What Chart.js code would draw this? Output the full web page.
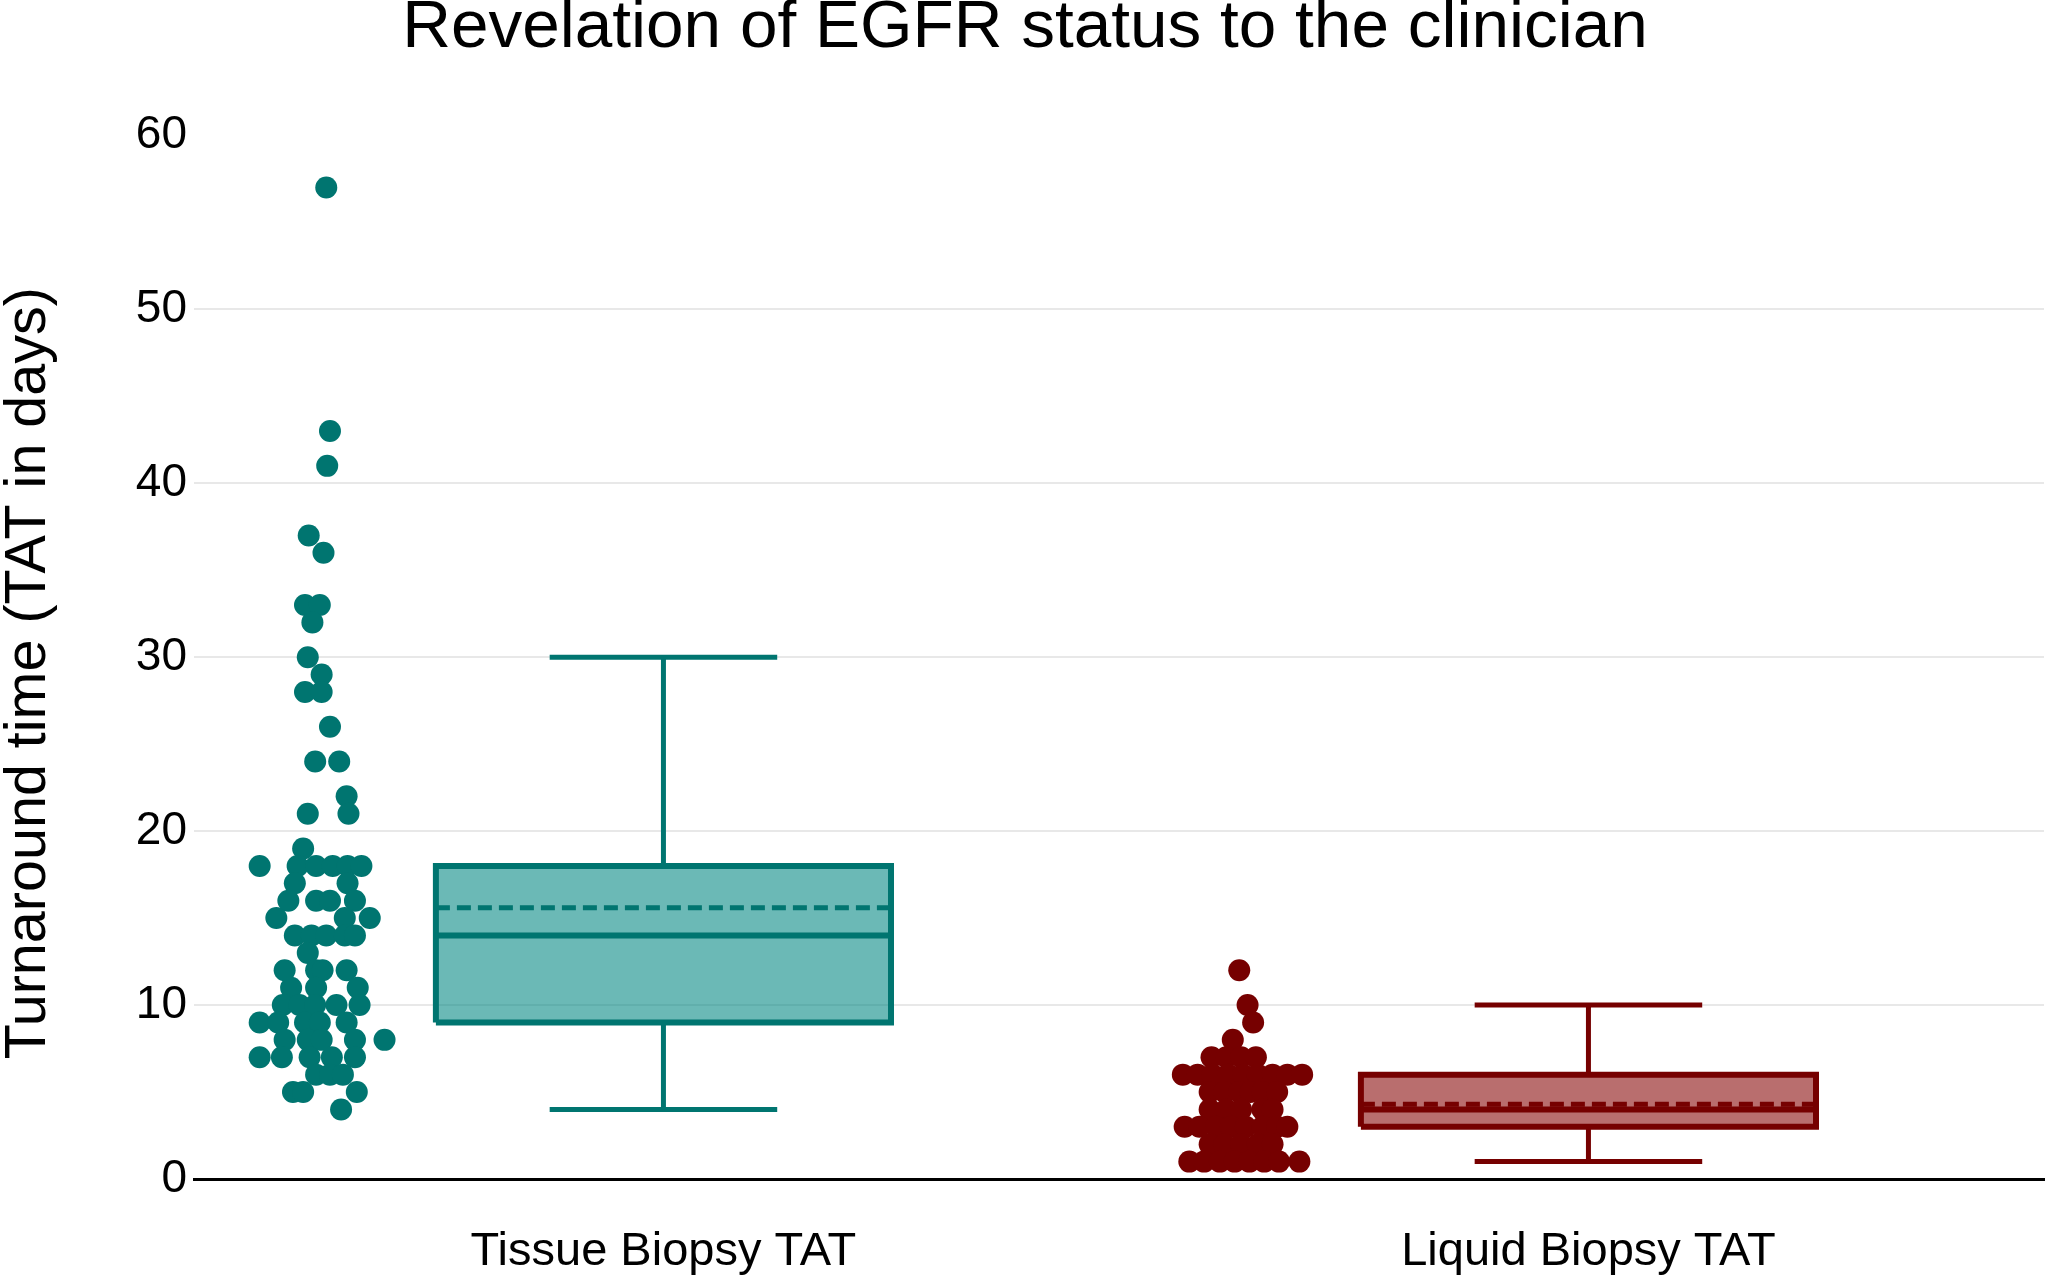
<!DOCTYPE html>
<html>
<head>
<meta charset="utf-8">
<title>Revelation of EGFR status to the clinician</title>
<script src="https://cdn.jsdelivr.net/npm/chart.js@4.4.1/dist/chart.umd.min.js"></script>
<style>
  html, body { margin: 0; padding: 0; background: #fff; }
  canvas { display: block; }
</style>
</head>
<body>
<canvas id="chart" width="2055" height="1279"></canvas>
<script>
const categories = ['Tissue Biopsy TAT', 'Liquid Biopsy TAT']
const yTicks = [0, 10, 20, 30, 40, 50, 60]

// single turnaround times (days), with the sideways jitter of each dot
// (jitter is an offset from the category centre, in category units)
const tissueDays = [57, 43, 41, 37, 36, 33, 33, 32, 30, 29, 28, 28, 26, 24, 24, 22, 21, 21, 19,
  18, 18, 18, 18, 18, 18, 17, 17, 16, 16, 16, 16, 15, 15, 15, 14, 14, 14, 14, 14, 13,
  12, 12, 12, 12, 11, 11, 11, 10, 10, 10, 10, 10, 9, 9, 9, 9, 9,
  8, 8, 8, 8, 8, 7, 7, 7, 7, 7, 6, 6, 6, 5, 5, 5, 4]
const tissueJitter = [-0.357, -0.353, -0.356, -0.376, -0.360, -0.380, -0.364, -0.372, -0.377, -0.362, -0.380, -0.362, -0.353, -0.369, -0.343, -0.335, -0.377, -0.333, -0.382,
  -0.429, -0.388, -0.368, -0.350, -0.334, -0.319, -0.391, -0.334, -0.398, -0.368, -0.353, -0.326, -0.411, -0.337, -0.310, -0.391, -0.373, -0.357, -0.337, -0.326, -0.377,
  -0.402, -0.368, -0.361, -0.335, -0.395, -0.368, -0.323, -0.404, -0.386, -0.369, -0.346, -0.321, -0.429, -0.409, -0.380, -0.364, -0.335,
  -0.402, -0.377, -0.362, -0.326, -0.294, -0.429, -0.405, -0.375, -0.351, -0.326, -0.368, -0.353, -0.339, -0.393, -0.382, -0.324, -0.341]

const liquidDays = [12, 10, 9, 8, 7, 7, 7, 7,
  6, 6, 6, 6, 6, 6, 6, 6, 6, 5, 5, 5, 5, 5, 5, 4, 4, 4, 4, 4,
  3, 3, 3, 3, 3, 3, 3, 3, 2, 2, 2, 2, 2, 1, 1, 1, 1, 1, 1, 1, 1]
const liquidJitter = [-0.370, -0.361, -0.355, -0.377, -0.400, -0.384, -0.368, -0.352,
  -0.431, -0.415, -0.399, -0.382, -0.366, -0.350, -0.334, -0.318, -0.302, -0.402, -0.386, -0.370, -0.358, -0.345, -0.329, -0.402, -0.384, -0.368, -0.345, -0.334,
  -0.429, -0.413, -0.395, -0.379, -0.363, -0.345, -0.329, -0.318, -0.402, -0.386, -0.368, -0.350, -0.334, -0.424, -0.408, -0.391, -0.375, -0.359, -0.343, -0.327, -0.305]

// box summaries, one entry per category
const lowerFence = [4, 1]
const q1 = [9, 3]
const median = [14, 4]
const mean = [15.6, 4.3]
const q3 = [18, 6]
const upperFence = [30, 10]

const lineColors = ['#007570', '#760000']
const fillColors = ['rgba(0,134,130,0.58)', 'rgba(132,0,0,0.57)']
const FONT = "'Liberation Sans', Arial, Helvetica, sans-serif"
const BOX_SHIFT = 0.0075
const BOX_HALF = 0.246
const CAP_HALF = 0.123

Chart.defaults.font.family = FONT

const seg = (data, color, width) => ({
    type: 'scatter', data, showLine: true, borderColor: color, borderWidth: width,
    pointRadius: 0, fill: false, spanGaps: false
})

const dotSets = [[tissueDays, tissueJitter], [liquidDays, liquidJitter]]
let datasets = []
categories.forEach((cat, i) => {
    const c = i + BOX_SHIFT
    const l = c - BOX_HALF, r = c + BOX_HALF
    datasets.push(seg([{x: l, y: median[i]}, {x: r, y: median[i]}], lineColors[i], 6))
    datasets.push({...seg([{x: l, y: mean[i]}, {x: r, y: mean[i]}], lineColors[i], 5), borderDash: [14, 7]})
    datasets.push(seg([{x: l, y: q1[i]}, {x: r, y: q1[i]}, {x: r, y: q3[i]}, {x: l, y: q3[i]}, {x: l, y: q1[i]}], lineColors[i], 6))
    datasets.push(seg([
        {x: c, y: q3[i]}, {x: c, y: upperFence[i]}, {x: c, y: null},
        {x: c - CAP_HALF, y: upperFence[i]}, {x: c + CAP_HALF, y: upperFence[i]}, {x: c, y: null},
        {x: c, y: q1[i]}, {x: c, y: lowerFence[i]}, {x: c, y: null},
        {x: c - CAP_HALF, y: lowerFence[i]}, {x: c + CAP_HALF, y: lowerFence[i]}
    ], lineColors[i], 5))
    // box body
    datasets.push({
        type: 'scatter', showLine: true, data: [{x: l, y: q3[i]}, {x: r, y: q3[i]}],
        fill: {value: q1[i]}, backgroundColor: fillColors[i], borderWidth: 0, pointRadius: 0
    })
    const [days, jit] = dotSets[i]
    datasets.push({
        type: 'scatter',
        data: days.map((d, k) => ({x: i + jit[k], y: d})),
        pointRadius: 11, pointBackgroundColor: lineColors[i], pointBorderWidth: 0
    })
})

new Chart(document.getElementById('chart'), {
    type: 'scatter',
    data: { datasets },
    options: {
        responsive: false,
        animation: false,
        devicePixelRatio: 1,
        layout: { padding: { left: 0, right: 5, top: 0, bottom: 0 } },
        plugins: {
            legend: { display: false },
            tooltip: { enabled: false },
            title: {
                display: true,
                text: 'Revelation of EGFR status to the clinician',
                color: '#000',
                font: { size: 67.5, weight: 'normal', lineHeight: 0.85 },
                padding: { top: 0, bottom: 78 }
            }
        },
        scales: {
            x: {
                type: 'linear', min: -0.5, max: 1.5,
                afterBuildTicks: s => { s.ticks = categories.map((c, i) => ({value: i + BOX_SHIFT})) },
                afterFit: s => { s.height = 100 },
                ticks: {
                    callback: v => categories[Math.round(v)],
                    color: '#000', font: { size: 47 }, padding: 37,
                    autoSkip: false, maxRotation: 0
                },
                grid: { display: false },
                border: { display: true, color: '#000', width: 3 }
            },
            y: {
                min: 0, max: 60,
                afterBuildTicks: s => { s.ticks = yTicks.map(v => ({value: v})) },
                afterFit: s => { s.width = 194 },
                ticks: { color: '#000', font: { size: 46 }, padding: 7 },
                grid: {
                    color: c => (c.tick.value === 0 || c.tick.value === 60) ? 'rgba(0,0,0,0)' : '#e8e8e8',
                    lineWidth: 2, drawTicks: false
                },
                border: { display: false },
                title: {
                    display: true, text: 'Turnaround time (TAT in days)  ', color: '#000',
                    font: { size: 57.5, lineHeight: 1 }, padding: { top: 0, bottom: 0 }
                }
            }
        }
    }
})
</script>
</body>
</html>
